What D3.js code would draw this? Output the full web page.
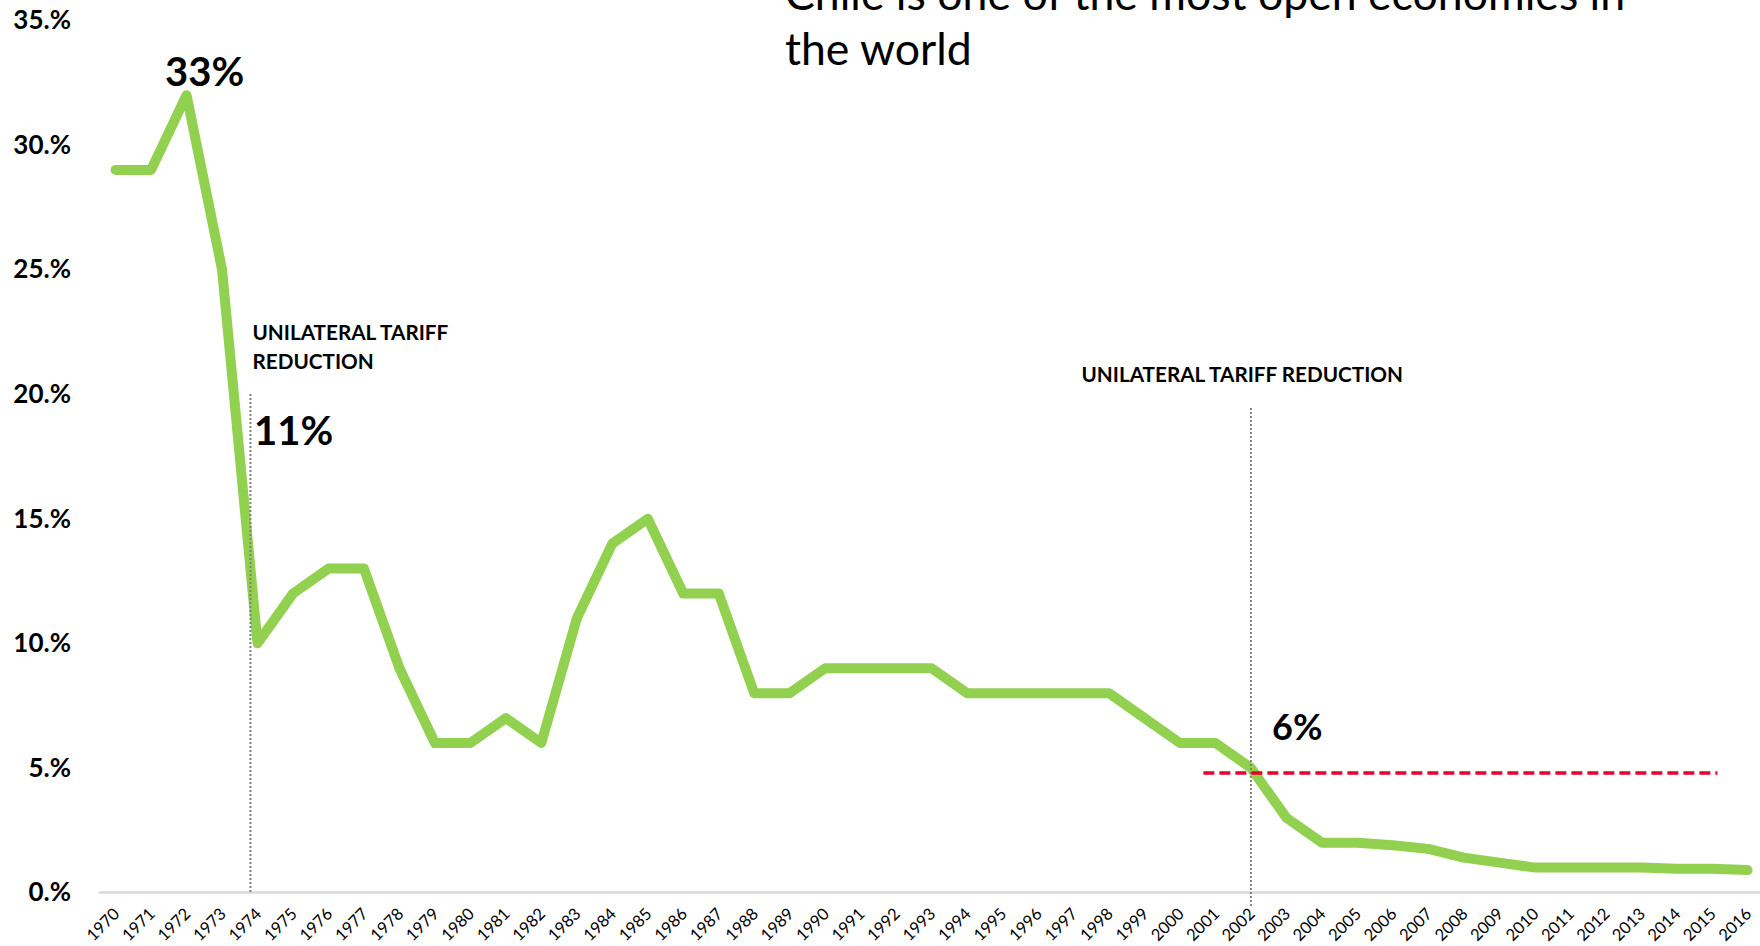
<!DOCTYPE html>
<html>
<head>
<meta charset="utf-8">
<script src="https://cdn.jsdelivr.net/npm/d3@7.9.0/dist/d3.min.js"></script>
<style>
  body { margin: 0; background: #fff; }
  svg { display: block; }
  text { font-family: Lato, "Open Sans", sans-serif; fill: #000; }
</style>
</head>
<body>
<svg id="chart" width="1760" height="946"></svg>
<script>
// average applied tariff, Chile, 1970-2016 (%)
const years = [1970, 1971, 1972, 1973, 1974, 1975, 1976, 1977, 1978, 1979,
  1980, 1981, 1982, 1983, 1984, 1985, 1986, 1987, 1988, 1989,
  1990, 1991, 1992, 1993, 1994, 1995, 1996, 1997, 1998, 1999,
  2000, 2001, 2002, 2003, 2004, 2005, 2006, 2007, 2008, 2009,
  2010, 2011, 2012, 2013, 2014, 2015, 2016];
const tariff = [29, 29, 32, 25, 10, 12, 13, 13, 9, 6,
  6, 7, 6, 11, 14, 15, 12, 12, 8, 8,
  9, 9, 9, 9, 8, 8, 8, 8, 8, 7,
  6, 6, 5, 3, 2, 2, 1.9, 1.75, 1.4, 1.2,
  1.0, 1.0, 1.0, 1.0, 0.95, 0.95, 0.9];
const yTicks = [0, 5, 10, 15, 20, 25, 30, 35];
const titleLines = ['Chile is one of the most open economies in', 'the world'];
const reformYears = [1973.8, 2002];
const reformLabels = [['UNILATERAL TARIFF', 'REDUCTION'], ['UNILATERAL TARIFF REDUCTION']];
const callouts = ['33%', '11%', '6%'];
const benchmark = 4.8;
const benchmarkSpan = [2000.66, 2015.15];

const data = years.map((year, i) => ({ year, value: tariff[i] }));

const svg = d3.select('#chart');
const x = d3.scaleLinear().domain([1970, 2016]).range([115.6, 1747.6]);
const y = d3.scaleLinear().domain([0, 35]).range([892.5, 20.4]);

// baseline
svg.append('line')
  .attr('x1', 98.7).attr('x2', 1760)
  .attr('y1', y(0)).attr('y2', y(0))
  .attr('stroke', '#d9d9d9').attr('stroke-width', 2.5);

// y axis labels only
const yAxis = d3.axisLeft(y)
  .tickValues(yTicks)
  .tickSize(0)
  .tickPadding(0)
  .tickFormat(d => `${d}.%`);
svg.append('g')
  .attr('transform', 'translate(71,0)')
  .call(yAxis)
  .call(g => g.select('.domain').remove())
  .selectAll('text')
  .attr('font-family', 'Lato, sans-serif')
  .attr('font-size', 26)
  .attr('font-weight', 700)
  .attr('fill', '#000');

// x labels, rotated
svg.append('g')
  .selectAll('text')
  .data(years)
  .join('text')
  .attr('transform', d => `translate(${x(d) + 5},915) rotate(-45)`)
  .attr('text-anchor', 'end')
  .attr('font-size', 16.5)
  .text(d => d);

// the tariff line
const line = d3.line().x(d => x(d.year)).y(d => y(d.value));
svg.append('path')
  .datum(data)
  .attr('d', line)
  .attr('fill', 'none')
  .attr('stroke', '#92D050')
  .attr('stroke-width', 10)
  .attr('stroke-linecap', 'round')
  .attr('stroke-linejoin', 'round');

// reform markers
const markerTop = [394, 408];
const markerBottom = [y(0), 906];
reformYears.forEach((yr, i) => {
  svg.append('line')
    .attr('x1', x(yr)).attr('x2', x(yr))
    .attr('y1', markerTop[i]).attr('y2', markerBottom[i])
    .attr('stroke', '#808080')
    .attr('stroke-width', 2)
    .attr('stroke-dasharray', '2,2');
});

// benchmark line
svg.append('line')
  .attr('x1', x(benchmarkSpan[0])).attr('x2', x(benchmarkSpan[1]))
  .attr('y1', y(benchmark)).attr('y2', y(benchmark))
  .attr('stroke', '#E8002B')
  .attr('stroke-width', 3.5)
  .attr('stroke-dasharray', '11,5');

// reform labels
const labelPos = [[252.5, 340], [1081.5, 381.5]];
reformLabels.forEach((lines, i) => {
  const t = svg.append('text')
    .attr('x', labelPos[i][0]).attr('y', labelPos[i][1])
    .attr('font-size', 20.7)
    .attr('font-weight', 700);
  lines.forEach((s, j) => {
    t.append('tspan')
      .attr('x', labelPos[i][0])
      .attr('dy', j === 0 ? 0 : 28.5)
      .text(s);
  });
});

// big callouts
const calloutPos = [[165, 86, 40], [254, 445, 40], [1272, 740, 36]];
callouts.forEach((s, i) => {
  svg.append('text')
    .attr('x', calloutPos[i][0]).attr('y', calloutPos[i][1])
    .attr('font-size', calloutPos[i][2])
    .attr('font-weight', 700)
    .text(s);
});

// title (top line is cut by the frame)
svg.append('text')
  .attr('font-size', 44.6)
  .selectAll('tspan')
  .data(titleLines)
  .join('tspan')
  .attr('x', 785)
  .attr('y', (d, i) => 10 + i * 55)
  .text(d => d);
</script>
</body>
</html>
